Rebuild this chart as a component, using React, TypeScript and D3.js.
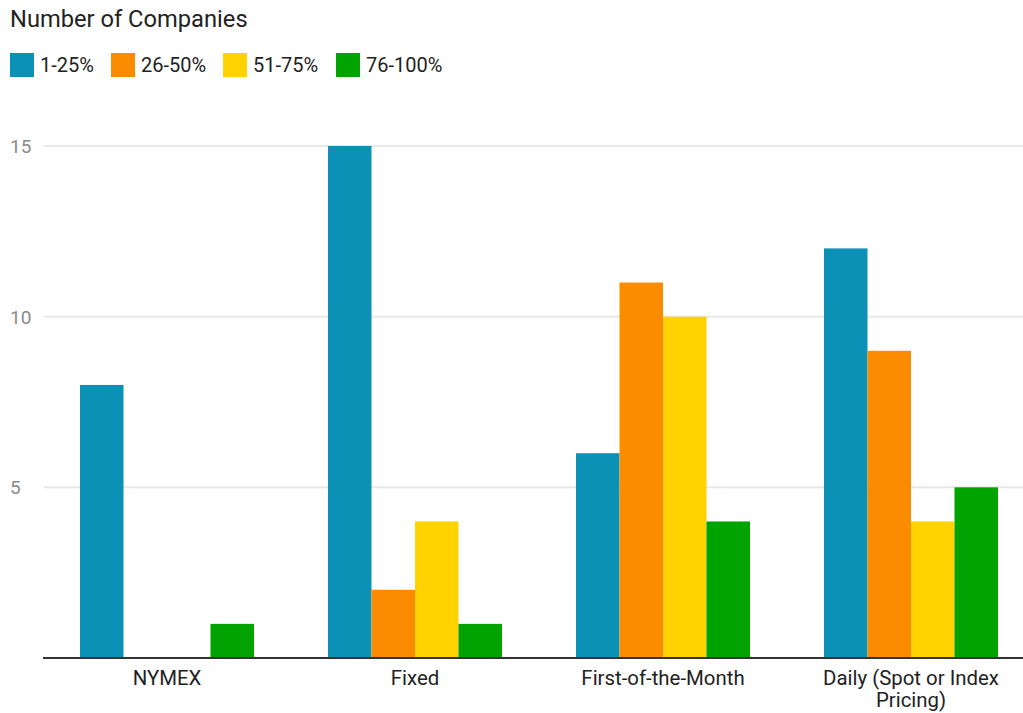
import React, { useEffect, useRef } from "react";
import * as d3 from "d3";

const title = "Number of Companies";
const categories = ["NYMEX", "Fixed", "First-of-the-Month", "Daily (Spot or Index Pricing)"];
const seriesNames = ["1-25%", "26-50%", "51-75%", "76-100%"];
const seriesColors = ["#0b91b5", "#fb8c00", "#ffd200", "#00a300"];
const s1 = [8, 15, 6, 12];
const s2 = [0, 2, 11, 9];
const s3 = [0, 4, 10, 4];
const s4 = [1, 1, 4, 5];
const seriesValues = [s1, s2, s3, s4];
const yTicks = [5, 10, 15];

const W = 1023;
const H = 713;

export default function App() {
  const ref = useRef<SVGSVGElement>(null);

  useEffect(() => {
    const svg = d3.select(ref.current);
    svg.selectAll("*").remove();
    const font = "Roboto, 'Noto Sans', sans-serif";

    const y = d3.scaleLinear().domain([0, 15]).range([658, 146]);
    const x0 = d3.scaleBand<string>().domain(categories).range([43, 1035]).padding(0);
    const x1 = d3
      .scaleBand<string>()
      .domain(seriesNames)
      .range([37, 211])
      .padding(0);

    // title
    svg
      .append("text")
      .attr("x", 10)
      .attr("y", 27)
      .attr("font-family", font)
      .attr("font-size", 23.7)
      .attr("fill", "#222")
      .text(title);

    // legend
    const legendX = [10, 111, 223, 336];
    seriesNames.forEach((name, i) => {
      const g = svg.append("g").attr("transform", `translate(${legendX[i]},53)`);
      g.append("rect").attr("width", 24).attr("height", 24).attr("fill", seriesColors[i]);
      g.append("text")
        .attr("x", 30)
        .attr("y", 19)
        .attr("font-family", font)
        .attr("font-size", 20)
        .attr("fill", "#222")
        .text(name);
    });

    // gridlines
    svg
      .append("g")
      .selectAll("line")
      .data(yTicks)
      .join("line")
      .attr("x1", 44)
      .attr("x2", W)
      .attr("y1", (d) => y(d))
      .attr("y2", (d) => y(d))
      .attr("stroke", "#e8e8e8")
      .attr("stroke-width", 2);

    svg
      .append("g")
      .selectAll("text")
      .data(yTicks)
      .join("text")
      .attr("x", 10)
      .attr("y", (d) => y(d) + 7)
      .attr("font-family", font)
      .attr("font-size", 19)
      .attr("fill", "#8a8a8a")
      .text((d) => String(d));

    // bars
    const groups = svg
      .append("g")
      .selectAll("g")
      .data(categories)
      .join("g")
      .attr("transform", (d) => `translate(${x0(d)},0)`);

    groups
      .selectAll("rect")
      .data((_, ci) => seriesNames.map((s, si) => ({ s, si, v: seriesValues[si][ci] })))
      .join("rect")
      .attr("x", (d) => x1(d.s)!)
      .attr("width", x1.bandwidth())
      .attr("y", (d) => y(d.v))
      .attr("height", (d) => y(0) - y(d.v))
      .attr("fill", (d) => seriesColors[d.si]);

    // axis line
    svg
      .append("line")
      .attr("x1", 43)
      .attr("x2", W)
      .attr("y1", y(0))
      .attr("y2", y(0))
      .attr("stroke", "#333")
      .attr("stroke-width", 2);

    // x labels with wrap
    const maxW = 200;
    categories.forEach((c) => {
      const cx = x0(c)! + x0.bandwidth() / 2;
      const t = svg
        .append("text")
        .attr("x", cx)
        .attr("y", 685)
        .attr("text-anchor", "middle")
        .attr("font-family", font)
        .attr("font-size", 20.4)
        .attr("fill", "#222");
      const words = c.split(" ");
      let line: string[] = [];
      let lineNo = 0;
      let tspan = t.append("tspan").attr("x", cx).attr("y", 685);
      words.forEach((w) => {
        line.push(w);
        tspan.text(line.join(" "));
        if ((tspan.node() as SVGTextContentElement).getComputedTextLength() > maxW && line.length > 1) {
          line.pop();
          tspan.text(line.join(" "));
          line = [w];
          lineNo++;
          tspan = t
            .append("tspan")
            .attr("x", cx)
            .attr("y", 685 + lineNo * 22)
            .text(w);
        }
      });
    });
  }, []);

  return (
    <div style={{ position: "absolute", left: 0, top: 0 }}>
      <svg ref={ref} width={W} height={H} style={{ display: "block", background: "#fff" }} />
    </div>
  );
}
